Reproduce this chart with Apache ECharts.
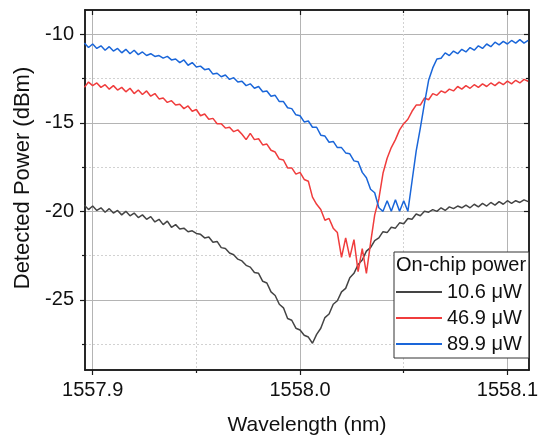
<!DOCTYPE html>
<html>
<head>
<meta charset="utf-8">
<script src="https://cdn.jsdelivr.net/npm/echarts@6/dist/echarts.min.js"></script>
<style>
html,body{margin:0;padding:0;background:#fff;}
#chart{width:541px;height:443px;}
</style>
</head>
<body>
<div id="chart"></div>
<script>
// Wavelength (nm)
const wavelength = [
1557.896,1557.898,1557.900,1557.902,1557.904,1557.906,1557.908,1557.910,1557.912,1557.914,
1557.916,1557.918,1557.920,1557.922,1557.924,1557.926,1557.928,1557.930,1557.932,1557.934,
1557.936,1557.938,1557.940,1557.942,1557.944,1557.946,1557.948,1557.950,1557.952,1557.954,
1557.956,1557.958,1557.960,1557.962,1557.964,1557.966,1557.968,1557.970,1557.972,1557.974,
1557.976,1557.978,1557.980,1557.982,1557.984,1557.986,1557.988,1557.990,1557.992,1557.994,
1557.996,1557.998,1558.000,1558.002,1558.004,1558.006,1558.008,1558.010,1558.012,1558.014,
1558.016,1558.018,1558.020,1558.022,1558.024,1558.026,1558.028,1558.030,1558.032,1558.034,
1558.036,1558.038,1558.040,1558.042,1558.044,1558.046,1558.048,1558.050,1558.052,1558.054,
1558.056,1558.058,1558.060,1558.062,1558.064,1558.066,1558.068,1558.070,1558.072,1558.074,
1558.076,1558.078,1558.080,1558.082,1558.084,1558.086,1558.088,1558.090,1558.092,1558.094,
1558.096,1558.098,1558.100,1558.102,1558.104,1558.106,1558.108,1558.110
];
// 10.6 uW (dBm)
const p10_6 = [
-19.65,-19.90,-19.70,-19.95,-19.80,-20.05,-19.85,-20.10,-19.95,-20.20,
-20.00,-20.25,-20.10,-20.35,-20.20,-20.45,-20.30,-20.60,-20.45,-20.75,
-20.55,-20.90,-20.75,-21.00,-20.95,-21.15,-21.10,-21.25,-21.30,-21.50,
-21.45,-21.75,-21.70,-22.05,-22.10,-22.35,-22.45,-22.70,-22.80,-23.05,
-23.15,-23.45,-23.50,-23.95,-24.05,-24.55,-24.75,-25.25,-25.45,-26.05,
-26.15,-26.60,-26.70,-27.00,-27.10,-27.45,-26.95,-26.60,-26.00,-25.80,
-25.25,-25.05,-24.55,-24.35,-23.75,-23.50,-23.00,-22.75,-22.25,-22.05,
-21.65,-21.50,-21.15,-21.20,-20.90,-20.95,-20.65,-20.70,-20.40,-20.45,
-20.15,-20.25,-20.00,-20.05,-19.90,-20.00,-19.80,-19.95,-19.75,-19.85,
-19.70,-19.80,-19.65,-19.80,-19.60,-19.75,-19.55,-19.70,-19.50,-19.65,
-19.45,-19.60,-19.40,-19.55,-19.40,-19.50,-19.35,-19.45
];
// 46.9 uW (dBm)
const p46_9 = [
-13.00,-12.70,-12.90,-12.75,-13.00,-12.85,-13.10,-12.90,-13.15,-13.00,
-13.25,-13.05,-13.35,-13.15,-13.40,-13.20,-13.50,-13.35,-13.65,-13.60,
-13.85,-13.75,-14.00,-13.95,-14.20,-14.05,-14.35,-14.25,-14.60,-14.50,
-14.80,-14.75,-15.05,-15.05,-15.30,-15.25,-15.50,-15.40,-15.65,-15.95,
-15.60,-15.95,-15.90,-16.25,-16.20,-16.55,-16.65,-17.05,-17.10,-17.55,
-17.55,-17.90,-17.80,-18.20,-18.30,-19.20,-19.60,-19.90,-20.50,-20.40,
-20.95,-21.20,-22.60,-21.50,-22.60,-21.60,-23.40,-22.10,-23.50,-21.80,
-20.20,-19.30,-17.85,-17.00,-16.40,-15.95,-15.40,-15.05,-14.80,-14.35,
-14.00,-14.00,-13.60,-13.70,-13.35,-13.45,-13.20,-13.30,-13.10,-13.20,
-12.95,-13.10,-12.90,-13.05,-12.85,-13.00,-12.80,-12.95,-12.75,-12.90,
-12.70,-12.85,-12.65,-12.80,-12.60,-12.75,-12.55,-12.65
];
// 89.9 uW (dBm)
const p89_9 = [
-10.50,-10.75,-10.55,-10.80,-10.65,-10.90,-10.70,-10.95,-10.80,-11.05,
-10.85,-11.10,-10.90,-11.15,-11.00,-11.20,-11.10,-11.25,-11.20,-11.35,
-11.25,-11.45,-11.40,-11.60,-11.45,-11.75,-11.60,-11.85,-11.80,-12.00,
-11.95,-12.25,-12.20,-12.40,-12.30,-12.55,-12.45,-12.70,-12.65,-12.90,
-12.80,-13.05,-12.95,-13.25,-13.20,-13.50,-13.45,-13.80,-13.80,-14.15,
-14.20,-14.55,-14.60,-14.95,-14.90,-15.25,-15.25,-15.70,-15.75,-16.10,
-16.05,-16.40,-16.40,-16.70,-16.75,-17.15,-17.20,-17.80,-18.10,-18.75,
-18.95,-19.80,-20.00,-19.40,-20.00,-19.35,-20.00,-19.40,-20.00,-18.30,
-16.60,-15.30,-13.90,-12.60,-11.90,-11.40,-11.35,-11.05,-11.20,-10.95,
-11.10,-10.85,-11.00,-10.75,-10.90,-10.65,-10.80,-10.55,-10.70,-10.45,
-10.60,-10.40,-10.55,-10.35,-10.50,-10.30,-10.50,-10.35
];
const seriesNames = ['10.6 \u03bcW', '46.9 \u03bcW', '89.9 \u03bcW'];
const seriesColors = ['#444444', '#f03c3c', '#1a66d9'];
const xMajor = [1557.9, 1558.0, 1558.1];
const xMinor = [1557.95, 1558.05];
const yMajor = [-10, -15, -20, -25];
const yMinor = [-12.5, -17.5, -22.5, -27.5];
const X_MIN = 1557.8963, X_MAX = 1558.1104;
const Y_MIN = -28.96, Y_MAX = -8.63;

const FONT = "'Liberation Sans', Arial, sans-serif";
const frame = { show: true, lineStyle: { color: '#1a1a1a', width: 1.5 } };

function xAx(pos, ticks, len, inside, labels, split) {
  return {
    type: 'value', position: pos, min: X_MIN, max: X_MAX,
    axisLine: frame,
    axisTick: { show: true, customValues: ticks, length: len, inside: inside, lineStyle: { color: '#1a1a1a', width: 1.2 } },
    axisLabel: labels ? { show: true, customValues: ticks, formatter: v => Number(v).toFixed(1), fontSize: 20, color: '#111', fontFamily: FONT, margin: 10 } : { show: false },
    splitLine: split ? { show: true, lineStyle: split } : { show: false }
  };
}
function yAx(pos, ticks, len, inside, labels, split) {
  return {
    type: 'value', position: pos, min: Y_MIN, max: Y_MAX,
    axisLine: frame,
    axisTick: { show: true, customValues: ticks, length: len, inside: inside, lineStyle: { color: '#1a1a1a', width: 1.2 } },
    axisLabel: labels ? { show: true, customValues: ticks, formatter: v => String(v), fontSize: 20, color: '#111', fontFamily: FONT, margin: 11 } : { show: false },
    splitLine: split ? { show: true, lineStyle: split } : { show: false }
  };
}
const majorGrid = { color: '#b4b4b4', width: 1, type: 'solid' };
const minorGrid = { color: '#d2d2d2', width: 1, type: [2, 2] };

const xAxes = [
  xAx('bottom', xMajor, 5, false, true, majorGrid),
  xAx('bottom', xMinor, 3, false, false, minorGrid),
  xAx('top', xMajor, 5, true, false, null),
  xAx('top', xMinor, 3, true, false, null)
];
xAxes[0].name = 'Wavelength (nm)';
xAxes[0].nameLocation = 'middle';
xAxes[0].nameGap = 45;
xAxes[0].nameTextStyle = { fontSize: 21, color: '#111', fontFamily: FONT };

const yAxes = [
  yAx('left', yMajor, 5, false, true, majorGrid),
  yAx('left', yMinor, 3, false, false, minorGrid),
  yAx('right', yMajor, 5, true, false, null),
  yAx('right', yMinor, 3, true, false, null)
];
yAxes[0].name = 'Detected Power (dBm)';
yAxes[0].nameLocation = 'middle';
yAxes[0].nameGap = 50;
yAxes[0].nameTextStyle = { fontSize: 22, color: '#111', fontFamily: FONT, padding: [0, 0, 0, 24] };

const series = [p10_6, p46_9, p89_9].map((vals, k) => ({
  name: seriesNames[k],
  type: 'line',
  xAxisIndex: 0, yAxisIndex: 0,
  symbol: 'none', showSymbol: false,
  data: wavelength.map((w, i) => [w, vals[i]]),
  lineStyle: { color: seriesColors[k], width: 1.5 },
  itemStyle: { color: seriesColors[k] },
  z: 3
}));

const chart = echarts.init(document.getElementById('chart'), null, { renderer: 'canvas' });
chart.setOption({
  animation: false,
  backgroundColor: '#ffffff',
  grid: { left: 85, right: 9, top: 10, bottom: 73, containLabel: false },
  xAxis: xAxes,
  yAxis: yAxes,
  title: {
    text: 'On-chip power', left: 396, top: 255, padding: 0, z: 10,
    textStyle: { fontSize: 20, fontWeight: 'normal', color: '#111', fontFamily: FONT }
  },
  legend: {
    data: seriesNames, orient: 'vertical', left: 394, top: 252,
    padding: [30, 7, 4, 2], itemGap: 6, itemWidth: 46, itemHeight: 2, icon: 'rect',
    borderColor: '#333', borderWidth: 1, backgroundColor: '#ffffff', selectedMode: false, z: 8,
    textStyle: { fontSize: 20, color: '#111', fontFamily: FONT }
  },
  series: series
});
</script>
</body>
</html>
